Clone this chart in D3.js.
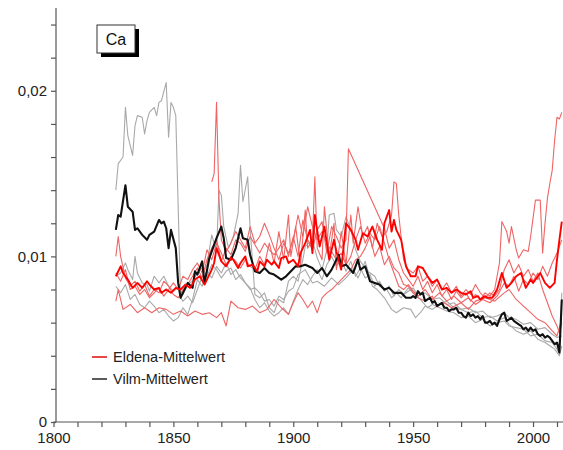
<!DOCTYPE html>
<html>
<head>
<meta charset="utf-8">
<script src="https://cdn.jsdelivr.net/npm/d3@7"></script>
<style>
  body { margin: 0; background: #fff; }
  svg { display: block; }
  text { font-family: "Liberation Sans", Arial, sans-serif; }
</style>
</head>
<body>
<div id="chart"></div>
<script>
// ======= DATA (Ca, [year, value]) =======

// Vilm, single trees
const vilm1 = [[1826,0.0140],[1827,0.0156],[1829,0.0160],[1830,0.0190],[1831,0.0173],[1833,0.0161],[1834,0.0179],[1835,0.0185],[1837,0.0184],[1838,0.0174],[1839,0.0182],[1840,0.0187],[1842,0.0190],[1843,0.0185],[1844,0.0193],[1845,0.0194],[1847,0.0205],[1848,0.0172],[1849,0.0193],[1850,0.0190],[1851,0.0185],[1853,0.0075],[1854,0.0073],[1856,0.0076],[1858,0.0072],[1860,0.0080],[1862,0.0088],[1864,0.0095],[1866,0.0113],[1868,0.0103],[1869,0.0140],[1870,0.0137],[1871,0.0118],[1873,0.0105],[1875,0.0112],[1877,0.0126],[1878,0.0155],[1879,0.0133],[1881,0.0148],[1882,0.0117],[1884,0.0077],[1886,0.0075],[1888,0.0078],[1890,0.0069],[1892,0.0066],[1894,0.0074],[1896,0.0072],[1898,0.0085],[1900,0.0088],[1902,0.0085],[1904,0.0098],[1905,0.0106],[1908,0.0110],[1910,0.0099],[1912,0.0092],[1914,0.0104],[1915,0.0125],[1917,0.0126],[1918,0.0116],[1920,0.0112],[1922,0.0124],[1924,0.0116],[1926,0.0104],[1928,0.0097],[1931,0.0091],[1934,0.0088],[1936,0.0082],[1939,0.0080],[1941,0.0075],[1943,0.0078],[1945,0.0075],[1948,0.0081],[1950,0.0078],[1953,0.0074],[1956,0.0069],[1958,0.0071],[1961,0.0069],[1964,0.0067],[1967,0.0066],[1970,0.0063],[1973,0.0064],[1976,0.0060],[1979,0.0062],[1982,0.0058],[1985,0.0060],[1988,0.0061],[1990,0.0058],[1993,0.0057],[1996,0.0056],[1999,0.0052],[2002,0.0053],[2005,0.0049],[2008,0.0048],[2010,0.0044],[2011,0.0041],[2012,0.0078]];
const vilm2 = [[1826,0.0088],[1828,0.0090],[1830,0.0096],[1831,0.0092],[1833,0.0086],[1834,0.0100],[1835,0.0090],[1837,0.0084],[1839,0.0083],[1840,0.0079],[1842,0.0088],[1844,0.0084],[1846,0.0088],[1848,0.0082],[1850,0.0079],[1852,0.0081],[1854,0.0077],[1856,0.0083],[1858,0.0085],[1860,0.0090],[1862,0.0093],[1864,0.0088],[1866,0.0095],[1868,0.0092],[1870,0.0087],[1872,0.0091],[1874,0.0093],[1876,0.0086],[1878,0.0089],[1880,0.0084],[1882,0.0080],[1884,0.0081],[1886,0.0078],[1888,0.0073],[1890,0.0074],[1892,0.0070],[1894,0.0076],[1896,0.0074],[1898,0.0079],[1900,0.0081],[1902,0.0089],[1905,0.0092],[1908,0.0084],[1910,0.0085],[1913,0.0082],[1916,0.0087],[1919,0.0083],[1922,0.0087],[1925,0.0092],[1927,0.0087],[1930,0.0097],[1933,0.0082],[1935,0.0080],[1938,0.0075],[1941,0.0068],[1943,0.0066],[1946,0.0069],[1949,0.0068],[1951,0.0063],[1953,0.0066],[1955,0.0070],[1958,0.0068],[1961,0.0071],[1964,0.0073],[1967,0.0069],[1970,0.0068],[1973,0.0066],[1976,0.0067],[1979,0.0063],[1982,0.0064],[1985,0.0061],[1988,0.0063],[1990,0.0059],[1993,0.0055],[1996,0.0053],[1999,0.0055],[2002,0.0050],[2005,0.0048],[2007,0.0046],[2009,0.0044],[2011,0.0040],[2012,0.0046]];
const vilm3 = [[1826,0.0082],[1828,0.0078],[1830,0.0083],[1832,0.0074],[1834,0.0077],[1836,0.0071],[1838,0.0069],[1840,0.0073],[1842,0.0070],[1844,0.0066],[1846,0.0068],[1848,0.0064],[1850,0.0061],[1852,0.0063],[1854,0.0069],[1856,0.0065],[1858,0.0074],[1860,0.0086],[1862,0.0082],[1864,0.0091],[1866,0.0087],[1868,0.0094],[1870,0.0090],[1872,0.0096],[1874,0.0089],[1876,0.0092],[1878,0.0087],[1880,0.0084],[1882,0.0081],[1884,0.0074],[1886,0.0069],[1888,0.0072],[1890,0.0067],[1892,0.0064],[1894,0.0066],[1896,0.0069],[1898,0.0065],[1900,0.0073],[1902,0.0080],[1904,0.0086],[1906,0.0083],[1908,0.0088],[1910,0.0092],[1912,0.0086],[1914,0.0095],[1916,0.0100],[1918,0.0094],[1920,0.0098],[1922,0.0091],[1924,0.0097],[1926,0.0088],[1928,0.0093],[1930,0.0087],[1932,0.0089],[1934,0.0082],[1936,0.0085],[1938,0.0079],[1940,0.0082],[1942,0.0076],[1944,0.0080],[1946,0.0077],[1948,0.0079],[1950,0.0081],[1952,0.0076],[1955,0.0078],[1958,0.0074],[1961,0.0075],[1964,0.0071],[1967,0.0072],[1970,0.0068],[1973,0.0069],[1976,0.0066],[1979,0.0067],[1982,0.0063],[1985,0.0064],[1988,0.0066],[1990,0.0063],[1993,0.0062],[1996,0.0059],[1999,0.0060],[2002,0.0056],[2005,0.0057],[2008,0.0053],[2010,0.0051],[2012,0.0052]];

// Vilm mean
const vilmMean = [[1826,0.0116],[1827,0.0125],[1828,0.0124],[1830,0.0143],[1831,0.0130],[1833,0.0127],[1834,0.0116],[1835,0.0117],[1837,0.0113],[1839,0.0110],[1840,0.0113],[1842,0.0115],[1844,0.0122],[1845,0.0120],[1846,0.0121],[1847,0.0117],[1848,0.0105],[1849,0.0116],[1851,0.0105],[1852,0.0084],[1853,0.0075],[1855,0.0081],[1856,0.0084],[1858,0.0081],[1859,0.0091],[1860,0.0089],[1862,0.0097],[1863,0.0084],[1865,0.0099],[1866,0.0103],[1868,0.0111],[1870,0.0118],[1871,0.0111],[1872,0.0099],[1874,0.0098],[1876,0.0105],[1878,0.0117],[1879,0.0111],[1881,0.0110],[1882,0.0101],[1884,0.0091],[1886,0.0090],[1888,0.0093],[1890,0.0090],[1892,0.0089],[1895,0.0086],[1897,0.0088],[1899,0.0091],[1901,0.0094],[1903,0.0094],[1905,0.0095],[1908,0.0093],[1910,0.0090],[1912,0.0093],[1914,0.0088],[1916,0.0092],[1919,0.0101],[1920,0.0094],[1922,0.0095],[1925,0.0090],[1927,0.0098],[1928,0.0092],[1930,0.0094],[1932,0.0085],[1934,0.0084],[1936,0.0083],[1938,0.0080],[1940,0.0081],[1942,0.0078],[1945,0.0078],[1947,0.0075],[1949,0.0075],[1950,0.0076],[1951,0.0075],[1952,0.0079],[1953,0.0077],[1954,0.0078],[1955,0.0073],[1956,0.0074],[1957,0.0075],[1958,0.0072],[1959,0.0073],[1960,0.0070],[1961,0.0071],[1962,0.0072],[1963,0.0069],[1964,0.0069],[1965,0.0067],[1966,0.0068],[1967,0.0068],[1968,0.0069],[1969,0.0066],[1970,0.0066],[1971,0.0064],[1972,0.0063],[1973,0.0066],[1974,0.0064],[1975,0.0065],[1976,0.0063],[1977,0.0064],[1978,0.0062],[1979,0.0064],[1980,0.0060],[1981,0.0060],[1982,0.0061],[1983,0.0059],[1984,0.0060],[1985,0.0058],[1986,0.0062],[1987,0.0065],[1988,0.0066],[1989,0.0061],[1990,0.0062],[1991,0.0063],[1992,0.0061],[1993,0.0060],[1994,0.0059],[1995,0.0058],[1996,0.0056],[1997,0.0057],[1998,0.0055],[1999,0.0057],[2000,0.0055],[2001,0.0056],[2002,0.0053],[2003,0.0052],[2004,0.0053],[2005,0.0051],[2006,0.0052],[2007,0.0051],[2008,0.0049],[2009,0.0047],[2010,0.0048],[2011,0.0042],[2012,0.0074]];

// Eldena, single trees
const eldena1 = [[1826,0.0073],[1827,0.0080],[1829,0.0068],[1832,0.0071],[1835,0.0066],[1838,0.0069],[1841,0.0066],[1844,0.0069],[1847,0.0068],[1850,0.0065],[1853,0.0067],[1856,0.0064],[1859,0.0067],[1862,0.0065],[1865,0.0066],[1868,0.0063],[1870,0.0066],[1872,0.0058],[1874,0.0073],[1877,0.0069],[1880,0.0068],[1883,0.0070],[1886,0.0066],[1889,0.0068],[1892,0.0074],[1895,0.0069],[1898,0.0065],[1900,0.0072],[1902,0.0078],[1904,0.0074],[1906,0.0069],[1908,0.0073],[1910,0.0066],[1912,0.0075],[1914,0.0078],[1916,0.0080],[1918,0.0083],[1920,0.0086],[1922,0.0089],[1924,0.0092],[1926,0.0098],[1928,0.0100],[1930,0.0105],[1932,0.0112],[1934,0.0100],[1936,0.0106],[1938,0.0095],[1940,0.0100],[1942,0.0093],[1944,0.0090],[1946,0.0083],[1948,0.0082],[1950,0.0078],[1952,0.0075],[1955,0.0073],[1958,0.0076],[1960,0.0070],[1963,0.0072],[1966,0.0069],[1970,0.0072],[1973,0.0068],[1976,0.0073],[1980,0.0075],[1984,0.0073],[1988,0.0078],[1990,0.0080],[1993,0.0074],[1996,0.0070],[1999,0.0066],[2002,0.0062],[2005,0.0060],[2008,0.0055],[2010,0.0052],[2012,0.0062]];
const eldena2 = [[1826,0.0100],[1827,0.0112],[1828,0.0100],[1830,0.0087],[1832,0.0082],[1834,0.0085],[1836,0.0079],[1838,0.0083],[1840,0.0076],[1842,0.0080],[1844,0.0078],[1846,0.0085],[1848,0.0082],[1850,0.0077],[1852,0.0075],[1854,0.0080],[1856,0.0083],[1858,0.0088],[1860,0.0093],[1862,0.0087],[1864,0.0098],[1866,0.0105],[1868,0.0110],[1870,0.0097],[1872,0.0105],[1874,0.0101],[1876,0.0110],[1878,0.0108],[1880,0.0103],[1882,0.0112],[1884,0.0107],[1886,0.0102],[1888,0.0108],[1890,0.0104],[1892,0.0101],[1894,0.0105],[1896,0.0110],[1898,0.0100],[1900,0.0112],[1902,0.0100],[1904,0.0122],[1906,0.0110],[1908,0.0104],[1910,0.0116],[1912,0.0121],[1914,0.0102],[1916,0.0118],[1918,0.0112],[1920,0.0105],[1922,0.0110],[1923,0.0165],[1938,0.0117],[1940,0.0105],[1942,0.0110],[1944,0.0098],[1946,0.0090],[1948,0.0086],[1950,0.0082],[1952,0.0088],[1954,0.0080],[1956,0.0085],[1958,0.0078],[1960,0.0083],[1962,0.0076],[1964,0.0080],[1966,0.0074],[1968,0.0079],[1970,0.0075],[1972,0.0078],[1974,0.0073],[1976,0.0077],[1978,0.0074],[1980,0.0078],[1982,0.0076],[1984,0.0080],[1986,0.0096],[1987,0.0121],[1989,0.0115],[1990,0.0108],[1991,0.0118],[1993,0.0104],[1994,0.0099],[1996,0.0104],[1998,0.0103],[1999,0.0112],[2001,0.0134],[2003,0.0134],[2004,0.0102],[2005,0.0120],[2006,0.0135],[2007,0.0144],[2008,0.0152],[2009,0.0170],[2010,0.0184],[2011,0.0183],[2012,0.0187]];
const eldena3 = [[1826,0.0090],[1828,0.0085],[1830,0.0092],[1832,0.0080],[1834,0.0082],[1836,0.0077],[1838,0.0080],[1840,0.0075],[1842,0.0078],[1844,0.0081],[1846,0.0076],[1848,0.0080],[1850,0.0084],[1852,0.0080],[1854,0.0088],[1856,0.0086],[1858,0.0092],[1860,0.0096],[1862,0.0090],[1864,0.0104],[1866,0.0098],[1868,0.0108],[1870,0.0102],[1872,0.0095],[1874,0.0100],[1876,0.0097],[1878,0.0093],[1880,0.0098],[1882,0.0094],[1884,0.0092],[1886,0.0100],[1888,0.0095],[1890,0.0108],[1892,0.0096],[1894,0.0115],[1896,0.0098],[1898,0.0125],[1899,0.0100],[1901,0.0118],[1903,0.0095],[1905,0.0128],[1906,0.0105],[1908,0.0110],[1909,0.0148],[1910,0.0105],[1912,0.0098],[1913,0.0130],[1915,0.0100],[1917,0.0120],[1918,0.0092],[1920,0.0115],[1922,0.0095],[1924,0.0125],[1925,0.0108],[1927,0.0130],[1929,0.0112],[1931,0.0118],[1933,0.0105],[1935,0.0120],[1937,0.0112],[1939,0.0115],[1941,0.0125],[1942,0.0145],[1943,0.0144],[1944,0.0125],[1946,0.0098],[1948,0.0092],[1950,0.0090],[1952,0.0094],[1954,0.0085],[1956,0.0088],[1958,0.0082],[1960,0.0086],[1962,0.0080],[1964,0.0084],[1966,0.0078],[1968,0.0082],[1970,0.0076],[1972,0.0080],[1974,0.0077],[1976,0.0083],[1978,0.0078],[1980,0.0075],[1982,0.0078],[1984,0.0076],[1986,0.0080],[1988,0.0092],[1990,0.0098],[1992,0.0090],[1994,0.0095],[1996,0.0088],[1998,0.0092],[2000,0.0085],[2002,0.0090],[2004,0.0080],[2006,0.0072],[2008,0.0064],[2010,0.0058],[2011,0.0054],[2012,0.0060]];
const eldena4 = [[1866,0.0145],[1867,0.0150],[1868,0.0193],[1869,0.0135],[1870,0.0110],[1872,0.0103],[1874,0.0108],[1876,0.0115],[1878,0.0110],[1880,0.0105],[1882,0.0118],[1884,0.0108],[1886,0.0112],[1888,0.0120],[1890,0.0113],[1892,0.0105],[1894,0.0098],[1896,0.0108],[1898,0.0102],[1900,0.0110],[1902,0.0125],[1904,0.0112],[1906,0.0130],[1908,0.0118],[1910,0.0110],[1912,0.0115],[1914,0.0108],[1916,0.0103],[1918,0.0098],[1920,0.0102],[1922,0.0095],[1924,0.0100],[1926,0.0110],[1928,0.0118],[1930,0.0108],[1932,0.0114],[1934,0.0110],[1936,0.0118],[1938,0.0108],[1940,0.0098],[1942,0.0090],[1944,0.0082],[1946,0.0080],[1948,0.0083],[1950,0.0079],[1952,0.0076],[1955,0.0080],[1958,0.0074],[1961,0.0078],[1964,0.0073],[1967,0.0076],[1970,0.0072],[1973,0.0075],[1976,0.0071],[1979,0.0074],[1982,0.0072],[1985,0.0076],[1988,0.0084],[1990,0.0082],[1992,0.0088],[1994,0.0079],[1996,0.0086],[1998,0.0083],[2000,0.0090],[2002,0.0086],[2004,0.0094],[2006,0.0088],[2008,0.0096],[2010,0.0102],[2012,0.0110]];

// Eldena mean
const eldenaMean = [[1826,0.0088],[1828,0.0094],[1829,0.0090],[1831,0.0086],[1833,0.0081],[1835,0.0084],[1837,0.0081],[1839,0.0085],[1840,0.0083],[1842,0.0080],[1844,0.0081],[1845,0.0078],[1847,0.0080],[1849,0.0078],[1851,0.0081],[1853,0.0080],[1855,0.0083],[1857,0.0081],[1859,0.0086],[1861,0.0088],[1863,0.0083],[1864,0.0086],[1866,0.0092],[1867,0.0096],[1868,0.0105],[1870,0.0097],[1872,0.0094],[1874,0.0099],[1875,0.0098],[1877,0.0093],[1878,0.0096],[1880,0.0100],[1881,0.0094],[1883,0.0095],[1885,0.0091],[1886,0.0097],[1888,0.0094],[1889,0.0098],[1891,0.0095],[1892,0.0097],[1894,0.0093],[1895,0.0099],[1897,0.0100],[1898,0.0096],[1900,0.0098],[1902,0.0094],[1903,0.0102],[1905,0.0108],[1907,0.0116],[1908,0.0102],[1909,0.0125],[1911,0.0106],[1913,0.0118],[1915,0.0098],[1917,0.0110],[1918,0.0103],[1920,0.0092],[1922,0.0120],[1924,0.0116],[1926,0.0110],[1927,0.0104],[1929,0.0114],[1931,0.0112],[1933,0.0118],[1935,0.0110],[1937,0.0104],[1938,0.0120],[1940,0.0128],[1941,0.0115],[1942,0.0122],[1943,0.0116],[1945,0.0110],[1947,0.0094],[1949,0.0088],[1951,0.0088],[1952,0.0094],[1954,0.0093],[1956,0.0088],[1958,0.0084],[1960,0.0086],[1962,0.0080],[1964,0.0081],[1966,0.0078],[1968,0.0080],[1970,0.0078],[1972,0.0077],[1974,0.0079],[1975,0.0075],[1977,0.0076],[1978,0.0074],[1980,0.0076],[1981,0.0075],[1983,0.0075],[1985,0.0080],[1987,0.0090],[1989,0.0081],[1991,0.0084],[1993,0.0088],[1995,0.0090],[1997,0.0081],[1999,0.0086],[2000,0.0084],[2002,0.0088],[2003,0.0090],[2005,0.0084],[2007,0.0081],[2009,0.0084],[2010,0.0098],[2011,0.0110],[2012,0.0121]];

// axes and legend
const xMajor = [1800, 1850, 1900, 1950, 2000];
const xMinor = d3.range(1800, 2011, 10);
const yMajor = [0, 0.01, 0.02];
const yLabels = ["0", "0,01", "0,02"];
const yMinor = d3.range(0, 0.0245, 0.002);
const legendItems = [
  { label: "Eldena-Mittelwert", color: "#e31a1a" },
  { label: "Vilm-Mittelwert", color: "#333333" }
];
const elementLabel = "Ca";

// ======= SVG SETUP =======
const width = 563;
const height = 450;

const svg = d3.select("#chart")
  .append("svg")
  .attr("width", width)
  .attr("height", height);

const x = d3.scaleLinear()
  .domain([1800, 2012.5])
  .range([53.5, 563]);

const y = d3.scaleLinear()
  .domain([0, 0.025])
  .range([422, 8]);

const line = d3.line()
  .x(d => x(d[0]))
  .y(d => y(d[1]));

// ======= LINES =======
const series = [
  { data: vilm1, color: "#a9a9a9", w: 1.1 },
  { data: vilm2, color: "#a9a9a9", w: 1.1 },
  { data: vilm3, color: "#a9a9a9", w: 1.1 },
  { data: eldena1, color: "#ef6464", w: 1.1 },
  { data: eldena2, color: "#ef6464", w: 1.1 },
  { data: eldena3, color: "#ef6464", w: 1.1 },
  { data: eldena4, color: "#ef6464", w: 1.1 },
  { data: vilmMean, color: "#111111", w: 2.1 },
  { data: eldenaMean, color: "#ff0000", w: 1.9 }
];

svg.append("g")
  .selectAll("path")
  .data(series)
  .enter()
  .append("path")
  .attr("d", d => line(d.data))
  .attr("fill", "none")
  .attr("stroke", d => d.color)
  .attr("stroke-width", d => d.w)
  .attr("stroke-linejoin", "round");

// ======= AXES =======
const xAxis = d3.axisBottom(x)
  .tickValues(xMinor)
  .tickSize(5)
  .tickFormat(d => xMajor.includes(d) ? d : "");

const gx = svg.append("g")
  .attr("transform", `translate(0,${y(0)})`)
  .call(xAxis);

const yAxis = d3.axisLeft(y)
  .tickValues(yMinor)
  .tickSize(5)
  .tickFormat(d => {
    const i = yMajor.findIndex(v => Math.abs(v - d) < 1e-9);
    return i >= 0 ? yLabels[i] : "";
  });

const gy = svg.append("g")
  .attr("transform", `translate(${x(1800) + 2.5},0)`)
  .call(yAxis);

[gx, gy].forEach(g => {
  g.select(".domain").attr("stroke", "#555").attr("stroke-width", 1.2);
  g.selectAll(".tick line").attr("stroke", "#555").attr("stroke-width", 1.2);
  g.selectAll(".tick text")
    .attr("fill", "#222")
    .style("font-size", "15px")
    .style("font-family", '"Liberation Sans", Arial, sans-serif');
});
gx.select(".domain").attr("d", `M${x(1800)},0H${width}`);
gx.selectAll(".tick text").attr("dy", "0.85em");
gy.selectAll(".tick text").attr("x", -9);
gy.select(".domain").attr("d", `M0,${y(0)}V8`);

// ======= ELEMENT BOX =======
const box = svg.append("g").attr("transform", "translate(97,25)");
box.append("rect")
  .attr("x", 4).attr("y", 4)
  .attr("width", 38).attr("height", 28)
  .attr("fill", "#000");
box.append("rect")
  .attr("width", 38).attr("height", 28)
  .attr("fill", "#fff")
  .attr("stroke", "#333")
  .attr("stroke-width", 1);
box.append("text")
  .attr("x", 19).attr("y", 20)
  .attr("text-anchor", "middle")
  .style("font-size", "16px")
  .attr("fill", "#111")
  .text(elementLabel);

// ======= LEGEND =======
const legend = svg.append("g").attr("transform", "translate(92,357)");
legendItems.forEach((d, i) => {
  const row = legend.append("g").attr("transform", `translate(0,${i * 22})`);
  row.append("line")
    .attr("x1", 0).attr("x2", 15)
    .attr("stroke", d.color)
    .attr("stroke-width", 1.6);
  row.append("text")
    .attr("x", 21).attr("y", 5)
    .style("font-size", "14.5px")
    .attr("fill", "#222")
    .text(d.label);
});
</script>
</body>
</html>
